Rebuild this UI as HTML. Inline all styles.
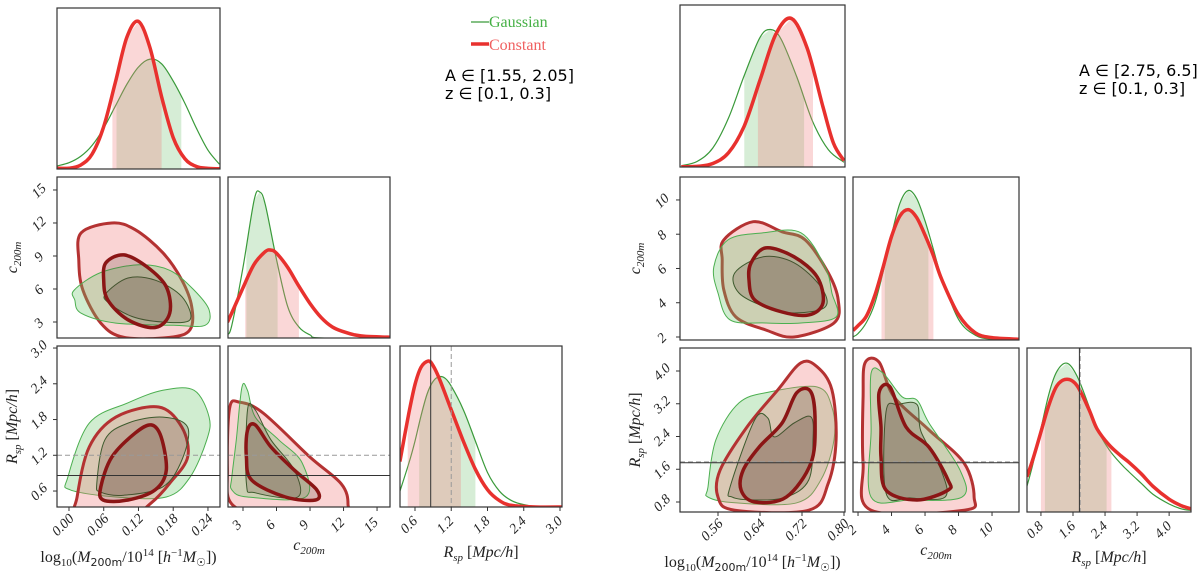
<!DOCTYPE html>
<html><head><meta charset="utf-8"><style>
html,body{margin:0;padding:0;background:#fff;width:1200px;height:582px;overflow:hidden}
svg{display:block}
.tk{font-family:"Liberation Serif",serif;font-style:italic;font-size:14px;fill:#222}
.ax{font-family:"Liberation Serif",serif;font-size:16px;fill:#222}
.ann{font-family:"DejaVu Sans","Liberation Sans",sans-serif;font-size:16px;fill:#000}
</style></head><body>
<svg id="fig" width="1200" height="582" viewBox="0 0 1200 582">
<g>
<line x1="471" y1="22" x2="489" y2="22" stroke="#3a9a3a" stroke-width="1.3"/>
<text x="489" y="27" font-family="Liberation Serif,serif" font-size="16" fill="#45b045">Gaussian</text>
<line x1="471" y1="44" x2="489" y2="44" stroke="#e8312e" stroke-width="3.5"/>
<text x="489" y="50" font-family="Liberation Serif,serif" font-size="16" fill="#f06060">Constant</text>
</g>
<text class="ann" x="445" y="81">A ∈ [1.55, 2.05]</text>
<text class="ann" x="445" y="99">z ∈ [0.1, 0.3]</text>
<text class="ann" x="1079" y="76">A ∈ [2.75, 6.5]</text>
<text class="ann" x="1079" y="94">z ∈ [0.1, 0.3]</text>
</svg>
<script>
// ===== LEFT corner (A in [1.55,2.05]) =====
const L_M_x=[-0.02,0.0,0.02,0.04,0.06,0.08,0.10,0.12,0.14,0.16,0.18,0.20,0.22,0.24,0.26];
const L_M_red=[0.005,0.005,0.025,0.095,0.27,0.55,0.84,0.94,0.77,0.46,0.20,0.066,0.016,0.004,0.001];
const L_M_green=[0.02,0.04,0.08,0.15,0.26,0.40,0.54,0.65,0.70,0.67,0.56,0.42,0.26,0.12,0.03];
const L_M_band_red=[0.075,0.16];
const L_M_band_green=[0.082,0.194];
const L_c_xr=[1.6,2,3,4,5,5.5,6,7,8,9,10,11,12,13,14,16.2];
const L_c_red=[0.10,0.16,0.32,0.47,0.55,0.56,0.54,0.45,0.33,0.22,0.13,0.07,0.04,0.02,0.01,0.005];
const L_c_xg=[1.6,2,3,4,4.5,5,6,7,8,9,10,16.2];
const L_c_green=[0.02,0.08,0.45,0.88,0.93,0.85,0.5,0.2,0.07,0.02,0,0];
const L_c_band_red=[3.2,8.0];
const L_c_band_green=[3.3,6.1];
const L_R_xr=[0.35,0.5,0.6,0.7,0.82,0.9,1.0,1.2,1.4,1.6,1.8,2.0,2.2,2.6,3.05];
const L_R_red=[0.29,0.6,0.78,0.89,0.93,0.9,0.82,0.62,0.42,0.24,0.11,0.04,0.01,0,0];
const L_R_xg=[0.35,0.5,0.6,0.7,0.8,0.9,1.0,1.1,1.2,1.4,1.6,1.8,2.0,2.2,2.4,2.7,3.05];
const L_R_green=[0.1,0.28,0.42,0.58,0.72,0.8,0.83,0.82,0.77,0.62,0.42,0.22,0.1,0.04,0.015,0,0];
const L_R_band_red=[0.48,1.36];
const L_R_band_green=[0.67,1.6];
const L_R_true=0.86, L_R_ref=1.2;
const L_Mc_redOut_M=[.021,.074,.114,.162,.195,.212,.209,.174,.095,.055,.024,.017];
const L_Mc_redOut_c=[11.1,12.0,11.4,9.3,6.8,4.4,2.3,1.6,1.6,2.9,5.9,8.6];
const L_Mc_redIn_M=[.064,.095,.135,.168,.174,.149,.102,.067,.060];
const L_Mc_redIn_c=[8.4,9.1,8.0,6.2,3.8,2.5,3.2,5.0,6.8];
const L_Mc_grOut_M=[.009,.055,.121,.174,.216,.242,.235,.181,.081,.021,.010];
const L_Mc_grOut_c=[5.9,7.5,8.2,7.7,5.9,4.1,2.7,2.7,2.9,3.8,5.0];
const L_Mc_grIn_M=[.064,.102,.149,.195,.209,.162,.109,.067];
const L_Mc_grIn_c=[5.6,7.0,6.8,5.3,3.2,3.0,3.5,4.8];
const L_MR_grOut_M=[-.002,.035,.102,.162,.216,.242,.238,.209,.168,.081,.002];
const L_MR_grOut_R=[.83,1.74,2.08,2.29,2.29,1.84,1.46,.83,.5,.5,.62];
const L_MR_grIn_M=[.048,.062,.102,.162,.205,.195,.162,.095,.055];
const L_MR_grIn_R=[.73,1.46,1.74,1.84,1.67,1.12,.67,.53,.58];
const L_MR_redOut_M=[.014,.035,.081,.155,.195,.205,.174,.142,.102,.014];
const L_MR_redOut_R=[.5,1.34,1.84,2.01,1.67,1.17,.73,.40,.16,.16];
const L_MR_redIn_M=[.055,.074,.114,.142,.159,.168,.149,.102,.059];
const L_MR_redIn_R=[.67,1.17,1.57,1.71,1.51,.95,.62,.45,.45];
const L_cR_grOut_c=[2.0,2.4,2.9,3.4,4.1,6.2,8.3,8.6,3.4,2.0];
const L_cR_grOut_R=[.83,1.46,2.34,2.29,1.84,1.46,1.07,.5,.5,.62];
const L_cR_grIn_c=[3.3,3.4,4.1,5.5,7.6,7.9,4.1];
const L_cR_grIn_R=[.73,1.96,1.96,1.46,.95,.5,.57];
const L_cR_redOut_c=[1.8,2.7,4.8,9.0,11.8,12.4,11.8,5.5,2.0,1.6];
const L_cR_redOut_R=[1.99,2.09,1.91,1.17,.72,.38,.16,.16,.38,.97];
const L_cR_redIn_c=[3.4,4.1,5.5,7.6,9.6,9.5,6.8,3.8,3.3];
const L_cR_redIn_R=[1.62,1.71,1.34,.95,.62,.45,.5,.78,1.17];
const L_M_ticks=[0.00,0.06,0.12,0.18,0.24];
const L_M_labels=["0.00","0.06","0.12","0.18","0.24"];
const L_c_ticks=[3,6,9,12,15];
const L_c_labels=["3","6","9","12","15"];
const L_R_ticks=[0.6,1.2,1.8,2.4,3.0];
const L_R_labels=["0.6","1.2","1.8","2.4","3.0"];

// ===== RIGHT corner (A in [2.75,6.5]) =====
const R_M_x=[0.49,0.52,0.55,0.58,0.61,0.64,0.66,0.68,0.71,0.74,0.77,0.80];
const R_M_green=[0.008,0.035,0.12,0.31,0.58,0.82,0.87,0.81,0.57,0.29,0.11,0.03];
const R_M_xr=[0.49,0.52,0.55,0.58,0.61,0.64,0.67,0.70,0.73,0.76,0.78,0.80];
const R_M_red=[0.001,0.004,0.022,0.09,0.26,0.55,0.84,0.94,0.75,0.38,0.15,0.04];
const R_M_band_red=[0.636,0.741];
const R_M_band_green=[0.61,0.724];
const R_c_x=[1.7,2,2.5,3,3.5,4,4.5,5,5.5,6,6.5,7,8,9,10,11.6];
const R_c_red=[0.06,0.09,0.15,0.28,0.46,0.65,0.78,0.82,0.77,0.66,0.53,0.38,0.16,0.045,0.015,0.005];
const R_c_green=[0.02,0.04,0.11,0.23,0.43,0.66,0.86,0.94,0.89,0.75,0.57,0.39,0.13,0.03,0.005,0];
const R_c_band_red=[3.4,6.5];
const R_c_band_green=[3.6,6.2];
const R_R_x=[0.45,0.6,0.8,1.0,1.2,1.45,1.7,2.0,2.2,2.5,2.8,3.0,3.3,3.6,4.0,4.3,4.55];
const R_R_red=[0.22,0.33,0.5,0.67,0.79,0.83,0.79,0.64,0.52,0.42,0.35,0.31,0.24,0.16,0.08,0.04,0.02];
const R_R_green=[0.16,0.3,0.52,0.74,0.88,0.93,0.85,0.66,0.52,0.39,0.3,0.25,0.18,0.11,0.05,0.02,0.01];
const R_R_band_red=[0.8,2.56];
const R_R_band_green=[0.9,2.44];
const R_R_true=1.76, R_R_ref=1.78;
const R_Mc_redOut_M=[.571,.627,.682,.726,.77,.789,.781,.705,.651,.594,.571,.568];
const R_Mc_redOut_c=[7.67,8.73,8.14,7.67,5.74,4.16,2.82,2.0,2.41,3.17,4.75,6.5];
const R_Mc_redIn_M=[.623,.651,.705,.749,.76,.733,.682,.63,.619];
const R_Mc_redIn_c=[6.33,7.2,6.68,5.5,3.99,3.29,3.46,4.16,5.33];
const R_Mc_grOut_M=[.552,.579,.646,.718,.764,.777,.785,.718,.651,.583,.56];
const R_Mc_grOut_c=[6.09,7.67,8.08,8.08,6.09,4.57,3.17,2.82,2.82,3.0,4.57];
const R_Mc_grIn_M=[.592,.646,.705,.756,.764,.705,.651,.6];
const R_Mc_grIn_c=[5.74,6.68,6.33,4.92,3.75,3.4,3.75,4.57];
const R_MR_redOut_M=[.564,.615,.674,.718,.749,.777,.785,.77,.733,.592,.56];
const R_MR_redOut_R=[1.58,2.63,3.54,4.2,4.1,3.54,2.32,1.26,.6,.6,.92];
const R_MR_redIn_M=[.608,.638,.682,.71,.737,.745,.737,.69,.63,.604];
const R_MR_redIn_R=[1.58,2.14,2.73,3.47,3.49,2.73,1.75,.92,.8,1.09];
const R_MR_grOut_M=[.541,.556,.6,.659,.749,.777,.781,.756,.71,.592,.541];
const R_MR_grOut_R=[1.17,2.32,3.22,3.49,3.61,3.12,2.32,1.34,.78,.78,.92];
const R_MR_grIn_M=[.583,.63,.655,.667,.705,.737,.741,.733,.69,.63,.587];
const R_MR_grIn_R=[1.17,2.81,2.85,2.39,2.73,2.88,2.32,1.34,.92,.85,.92];
const R_cR_redOut_c=[2.42,3.25,4.15,6.24,8.33,8.93,8.33,2.78,2.3,2.3];
const R_cR_redOut_R=[4.2,4.22,3.37,2.56,1.75,.92,.6,.6,1.75,3.37];
const R_cR_redIn_c=[3.25,3.91,4.87,6.24,7.37,7.37,5.52,3.67,3.37,3.37];
const R_cR_redIn_R=[3.47,3.61,2.63,2.14,1.34,1.09,.85,1.09,1.9,2.63];
const R_cR_grOut_c=[2.78,3.49,4.63,5.52,6.24,8.09,8.21,5.1,2.78,2.78];
const R_cR_grOut_R=[3.95,3.95,3.37,3.29,2.73,1.58,.92,.85,.92,2.56];
const R_cR_grIn_c=[3.67,4.39,5.52,5.76,6.96,7.19,5.1,3.67];
const R_cR_grIn_R=[3.0,3.18,3.18,2.52,1.58,.92,.9,1.02];
const R_M_ticks=[0.56,0.64,0.72,0.80];
const R_M_labels=["0.56","0.64","0.72","0.80"];
const R_c_ticks=[2,4,6,8,10];
const R_c_labels=["2","4","6","8","10"];
const R_R_ticks=[0.8,1.6,2.4,3.2,4.0];
const R_R_labels=["0.8","1.6","2.4","3.2","4.0"];

const NS="http://www.w3.org/2000/svg";
const svg=document.getElementById('fig');
function el(tag,parent){const e=document.createElementNS(NS,tag);parent.appendChild(e);return e;}
function lin(d0,d1,r0,r1){return v=>r0+(v-d0)/(d1-d0)*(r1-r0);}
function cr(pts,closed){
  const n=pts.length;let d='M'+pts[0][0].toFixed(1)+','+pts[0][1].toFixed(1);
  const m=closed?n:n-1;
  for(let i=0;i<m;i++){
    const p0=closed?pts[(i-1+n)%n]:pts[Math.max(i-1,0)];
    const p1=pts[i],p2=pts[(i+1)%n];
    const p3=closed?pts[(i+2)%n]:pts[Math.min(i+2,n-1)];
    const c1=[p1[0]+(p2[0]-p0[0])/6,p1[1]+(p2[1]-p0[1])/6];
    const c2=[p2[0]-(p3[0]-p1[0])/6,p2[1]-(p3[1]-p1[1])/6];
    d+='C'+c1[0].toFixed(1)+','+c1[1].toFixed(1)+' '+c2[0].toFixed(1)+','+c2[1].toFixed(1)+' '+p2[0].toFixed(1)+','+p2[1].toFixed(1);
  }
  return d+(closed?'Z':'');
}
let clipN=0;
function panel(x0,x1,y0,y1,name){
  const g=el('g',svg);
  
  
  const cp=el('clipPath',g);const id='cp'+(clipN++);cp.setAttribute('id',id);
  const r=el('rect',cp);r.setAttribute('x',x0);r.setAttribute('y',y0);r.setAttribute('width',x1-x0);r.setAttribute('height',y1-y0);
  const inner=el('g',g);inner.setAttribute('clip-path','url(#'+id+')');
  
  
  return {g,inner,x0,x1,y0,y1};
}
function frame(p){
  const b=el('rect',p.g);b.setAttribute('x',p.x0);b.setAttribute('y',p.y0);b.setAttribute('width',p.x1-p.x0);b.setAttribute('height',p.y1-p.y0);
  b.setAttribute('fill','none');b.setAttribute('stroke','#333');b.setAttribute('stroke-width','1.2');
  
  
}
function interp(xs,ys,v){
  if(v<=xs[0])return ys[0];
  for(let i=1;i<xs.length;i++){if(v<=xs[i]){const t=(v-xs[i-1])/(xs[i]-xs[i-1]);return ys[i-1]+t*(ys[i]-ys[i-1]);}}
  return ys[ys.length-1];
}
function marginal(p,sx,xs,ys,band,color,fill,w,name){
  const hy=v=>p.y1-v*(p.y1-p.y0-4);
  const pts=[];pts.push([sx(band[0]),p.y1]);
  const N=40;for(let i=0;i<=N;i++){const v=band[0]+(band[1]-band[0])*i/N;pts.push([sx(v),hy(interp(xs,ys,v))]);}
  pts.push([sx(band[1]),p.y1]);
  const f=el('polygon',p.inner);f.setAttribute('points',pts.map(q=>q[0].toFixed(1)+','+q[1].toFixed(1)).join(' '));
  f.setAttribute('fill',fill);
  
  
  const c=el('path',p.inner);c.setAttribute('d',cr(xs.map((x,i)=>[sx(x),hy(ys[i])]),false));
  c.setAttribute('fill','none');c.setAttribute('stroke',color);c.setAttribute('stroke-width',w);c.setAttribute('stroke-linejoin','round');
  
  
}
function contour(p,sx,sy,xs,ys,fill,stroke,w,name){
  const c=el('path',p.inner);c.setAttribute('d',cr(xs.map((x,i)=>[sx(x),sy(ys[i])]),true));
  c.setAttribute('fill',fill);c.setAttribute('stroke',stroke);c.setAttribute('stroke-width',w);c.setAttribute('stroke-linejoin','round');
  
  
}
function hline(p,y,dash,name){
  const l=el('line',p.inner);l.setAttribute('x1',p.x0);l.setAttribute('x2',p.x1);l.setAttribute('y1',y);l.setAttribute('y2',y);
  l.setAttribute('stroke',dash?'#999':'#333');l.setAttribute('stroke-width','1');if(dash)l.setAttribute('stroke-dasharray','5,3');
  
  
}
function vline(p,x,dash,name){
  const l=el('line',p.inner);l.setAttribute('x1',x);l.setAttribute('x2',x);l.setAttribute('y1',p.y0);l.setAttribute('y2',p.y1);
  l.setAttribute('stroke',dash?'#999':'#333');l.setAttribute('stroke-width','1');if(dash)l.setAttribute('stroke-dasharray','5,3');
  
  
}
function xticks(p,s,ticks,labels,name){
  ticks.forEach((t,i)=>{
    const x=s(t);
    const tk=el('line',p.g);tk.setAttribute('x1',x);tk.setAttribute('x2',x);tk.setAttribute('y1',p.y1);tk.setAttribute('y2',p.y1+4);tk.setAttribute('stroke','#333');
    
    
    const tx=el('text',p.g);tx.setAttribute('class','tk');tx.setAttribute('text-anchor','middle');
    tx.setAttribute('transform','translate('+(x-3)+','+(p.y1+21)+') rotate(-45)');tx.textContent=labels[i];
    
    
  });
}
function yticks(p,s,ticks,labels,name){
  ticks.forEach((t,i)=>{
    const y=s(t);
    const tk=el('line',p.g);tk.setAttribute('x1',p.x0-4);tk.setAttribute('x2',p.x0);tk.setAttribute('y1',y);tk.setAttribute('y2',y);tk.setAttribute('stroke','#333');
    
    
    const tx=el('text',p.g);tx.setAttribute('class','tk');tx.setAttribute('text-anchor','middle');
    tx.setAttribute('transform','translate('+(p.x0-15)+','+(y+4)+') rotate(-45)');tx.textContent=labels[i];
    
    
  });
}
const RED='#e8312e',GREEN='#3a9a3a',RFILL='rgba(240,120,120,0.32)',GFILL='rgba(110,200,110,0.32)';
const RBAND='rgba(240,130,130,0.32)',GBAND='rgba(120,195,120,0.3)';
const INFILL='rgba(90,60,50,0.22)';
function corner(o){
  const [c1,c2,c3]=o.cols,[r1,r2,r3]=o.rows;
  const sM=lin(o.Md[0],o.Md[1],c1[0],c1[1]);
  const scx=lin(o.cxd[0],o.cxd[1],c2[0],c2[1]);
  const scy=lin(o.cyd[0],o.cyd[1],r2[1],r2[0]);
  const sRx=lin(o.Rxd[0],o.Rxd[1],c3[0],c3[1]);
  const sRy=lin(o.Ryd[0],o.Ryd[1],r3[1],r3[0]);
  let p=panel(c1[0],c1[1],r1[0],r1[1],o.pre+'-mass-marginal');
  marginal(p,sM,o.Mxg,o.Mg,o.Mbg,GREEN,GBAND,1.2,o.pre+'-mass-gaussian');
  marginal(p,sM,o.Mxr,o.Mr,o.Mbr,RED,RBAND,3.5,o.pre+'-mass-constant');
  frame(p);
  p=panel(c1[0],c1[1],r2[0],r2[1],o.pre+'-mass-vs-conc');
  contour(p,sM,scy,o.Mc[0],o.Mc[1],RFILL,'#b43232',3,o.pre+'-mc-constant-outer');
  contour(p,sM,scy,o.Mc[4],o.Mc[5],GFILL,'#4caf50',1,o.pre+'-mc-gaussian-outer');
  contour(p,sM,scy,o.Mc[6],o.Mc[7],INFILL,'#3d5a2d',1,o.pre+'-mc-gaussian-inner');
  contour(p,sM,scy,o.Mc[2],o.Mc[3],INFILL,'#8b1515',3.5,o.pre+'-mc-constant-inner');
  frame(p);yticks(p,scy,o.cyt,o.cyl,o.pre+'-conc-y');
  p=panel(c2[0],c2[1],r2[0],r2[1],o.pre+'-conc-marginal');
  marginal(p,scx,o.cxg,o.cg,o.cbg,GREEN,GBAND,1.2,o.pre+'-conc-gaussian');
  marginal(p,scx,o.cxr,o.cr,o.cbr,RED,RBAND,3.5,o.pre+'-conc-constant');
  frame(p);
  p=panel(c1[0],c1[1],r3[0],r3[1],o.pre+'-mass-vs-rsp');
  contour(p,sM,sRy,o.MR[4],o.MR[5],GFILL,'#4caf50',1,o.pre+'-mr-gaussian-outer');
  contour(p,sM,sRy,o.MR[0],o.MR[1],RFILL,'#b43232',3,o.pre+'-mr-constant-outer');
  contour(p,sM,sRy,o.MR[6],o.MR[7],INFILL,'#3d5a2d',1,o.pre+'-mr-gaussian-inner');
  contour(p,sM,sRy,o.MR[2],o.MR[3],INFILL,'#8b1515',3.5,o.pre+'-mr-constant-inner');
  hline(p,sRy(o.Rref),true,o.pre+'-mr-reference-line');hline(p,sRy(o.Rtrue),false,o.pre+'-mr-truth-line');
  frame(p);xticks(p,sM,o.Mt,o.Ml,o.pre+'-mass-x');yticks(p,sRy,o.Ryt,o.Ryl,o.pre+'-rsp-y');
  p=panel(c2[0],c2[1],r3[0],r3[1],o.pre+'-conc-vs-rsp');
  contour(p,scx,sRy,o.cR[0],o.cR[1],RFILL,'#b43232',3,o.pre+'-cr-constant-outer');
  contour(p,scx,sRy,o.cR[4],o.cR[5],GFILL,'#4caf50',1,o.pre+'-cr-gaussian-outer');
  contour(p,scx,sRy,o.cR[6],o.cR[7],INFILL,'#3d5a2d',1,o.pre+'-cr-gaussian-inner');
  contour(p,scx,sRy,o.cR[2],o.cR[3],INFILL,'#8b1515',3.5,o.pre+'-cr-constant-inner');
  hline(p,sRy(o.Rref),true,o.pre+'-cr-reference-line');hline(p,sRy(o.Rtrue),false,o.pre+'-cr-truth-line');
  frame(p);xticks(p,scx,o.cxt,o.cxl,o.pre+'-conc-x');
  p=panel(c3[0],c3[1],r3[0],r3[1],o.pre+'-rsp-marginal');
  marginal(p,sRx,o.Rxg,o.Rg,o.Rbg,GREEN,GBAND,1.2,o.pre+'-rsp-gaussian');
  marginal(p,sRx,o.Rxr,o.Rr,o.Rbr,RED,RBAND,3.5,o.pre+'-rsp-constant');
  vline(p,sRx(o.Rref),true,o.pre+'-rsp-reference-line');vline(p,sRx(o.Rtrue),false,o.pre+'-rsp-truth-line');
  frame(p);xticks(p,sRx,o.Rxt,o.Rxl,o.pre+'-rsp-x');
  const t1=el('text',svg);t1.setAttribute('class','ax');t1.setAttribute('text-anchor','middle');t1.setAttribute('x',(c1[0]+c1[1])/2-10);t1.setAttribute('y',o.labY+12);
  t1.innerHTML='log<tspan font-size="11" dy="4">10</tspan><tspan dy="-4">(</tspan><tspan font-style="italic">M</tspan><tspan font-size="11" dy="4" font-family="DejaVu Sans,sans-serif">200m</tspan><tspan dy="-4">/10</tspan><tspan font-size="11" dy="-6">14</tspan><tspan dy="6"> [</tspan><tspan font-style="italic">h</tspan><tspan font-size="11" dy="-6">−1</tspan><tspan dy="6" font-style="italic">M</tspan><tspan font-size="11" dy="4">☉</tspan><tspan dy="-4">])</tspan>';
  
  
  const t2=el('text',svg);t2.setAttribute('class','ax');t2.setAttribute('text-anchor','middle');t2.setAttribute('x',(c2[0]+c2[1])/2);t2.setAttribute('y',o.labY);
  t2.innerHTML='<tspan font-style="italic">c</tspan><tspan font-size="11" dy="4" font-style="italic">200m</tspan>';
  
  
  const t3=el('text',svg);t3.setAttribute('class','ax');t3.setAttribute('text-anchor','middle');t3.setAttribute('x',(c3[0]+c3[1])/2);t3.setAttribute('y',o.labY+7);
  t3.innerHTML='<tspan font-style="italic">R</tspan><tspan font-size="11" dy="4" font-style="italic">sp</tspan><tspan dy="-4"> [</tspan><tspan font-style="italic">Mpc/h</tspan>]';
  
  
  const t4=el('text',svg);t4.setAttribute('class','ax');t4.setAttribute('text-anchor','middle');
  t4.setAttribute('transform','translate('+(c1[0]-40)+','+((r2[0]+r2[1])/2)+') rotate(-90)');
  t4.innerHTML='<tspan font-style="italic">c</tspan><tspan font-size="11" dy="4" font-style="italic">200m</tspan>';
  
  
  const t5=el('text',svg);t5.setAttribute('class','ax');t5.setAttribute('text-anchor','middle');
  t5.setAttribute('transform','translate('+(c1[0]-40)+','+((r3[0]+r3[1])/2)+') rotate(-90)');
  t5.innerHTML='<tspan font-style="italic">R</tspan><tspan font-size="11" dy="4" font-style="italic">sp</tspan><tspan dy="-4"> [</tspan><tspan font-style="italic">Mpc/h</tspan>]';
  
  
}
corner({pre:'left',cols:[[57,220],[228,390],[400,562]],rows:[[8,169],[177,338],[346,507]],
  Md:[-0.0207,0.2608],cxd:[1.657,16.16],cyd:[1.545,16.18],Rxd:[0.352,3.033],Ryd:[0.332,3.034],
  Mxg:L_M_x,Mg:L_M_green,Mbg:L_M_band_green,Mxr:L_M_x,Mr:L_M_red,Mbr:L_M_band_red,
  cxg:L_c_xg,cg:L_c_green,cbg:L_c_band_green,cxr:L_c_xr,cr:L_c_red,cbr:L_c_band_red,
  Rxg:L_R_xg,Rg:L_R_green,Rbg:L_R_band_green,Rxr:L_R_xr,Rr:L_R_red,Rbr:L_R_band_red,
  Mc:[L_Mc_redOut_M,L_Mc_redOut_c,L_Mc_redIn_M,L_Mc_redIn_c,L_Mc_grOut_M,L_Mc_grOut_c,L_Mc_grIn_M,L_Mc_grIn_c],
  MR:[L_MR_redOut_M,L_MR_redOut_R,L_MR_redIn_M,L_MR_redIn_R,L_MR_grOut_M,L_MR_grOut_R,L_MR_grIn_M,L_MR_grIn_R],
  cR:[L_cR_redOut_c,L_cR_redOut_R,L_cR_redIn_c,L_cR_redIn_R,L_cR_grOut_c,L_cR_grOut_R,L_cR_grIn_c,L_cR_grIn_R],
  Rref:L_R_ref,Rtrue:L_R_true,
  Mt:L_M_ticks,Ml:L_M_labels,cyt:L_c_ticks,cyl:L_c_labels,cxt:L_c_ticks,cxl:L_c_labels,Ryt:L_R_ticks,Ryl:L_R_labels,Rxt:L_R_ticks,Rxl:L_R_labels,labY:550});
corner({pre:'right',cols:[[680,845],[853,1019],[1027,1191]],rows:[[5,167],[177,340],[348,512]],
  Md:[0.4876,0.8019],cxd:[1.70,11.61],cyd:[1.825,11.34],Rxd:[0.452,4.546],Ryd:[0.556,4.562],
  Mxg:R_M_x,Mg:R_M_green,Mbg:R_M_band_green,Mxr:R_M_xr,Mr:R_M_red,Mbr:R_M_band_red,
  cxg:R_c_x,cg:R_c_green,cbg:R_c_band_green,cxr:R_c_x,cr:R_c_red,cbr:R_c_band_red,
  Rxg:R_R_x,Rg:R_R_green,Rbg:R_R_band_green,Rxr:R_R_x,Rr:R_R_red,Rbr:R_R_band_red,
  Mc:[R_Mc_redOut_M,R_Mc_redOut_c,R_Mc_redIn_M,R_Mc_redIn_c,R_Mc_grOut_M,R_Mc_grOut_c,R_Mc_grIn_M,R_Mc_grIn_c],
  MR:[R_MR_redOut_M,R_MR_redOut_R,R_MR_redIn_M,R_MR_redIn_R,R_MR_grOut_M,R_MR_grOut_R,R_MR_grIn_M,R_MR_grIn_R],
  cR:[R_cR_redOut_c,R_cR_redOut_R,R_cR_redIn_c,R_cR_redIn_R,R_cR_grOut_c,R_cR_grOut_R,R_cR_grIn_c,R_cR_grIn_R],
  Rref:R_R_ref,Rtrue:R_R_true,
  Mt:R_M_ticks,Ml:R_M_labels,cyt:R_c_ticks,cyl:R_c_labels,cxt:R_c_ticks,cxl:R_c_labels,Ryt:R_R_ticks,Ryl:R_R_labels,Rxt:R_R_ticks,Rxl:R_R_labels,labY:555});
</script>
</body></html>
